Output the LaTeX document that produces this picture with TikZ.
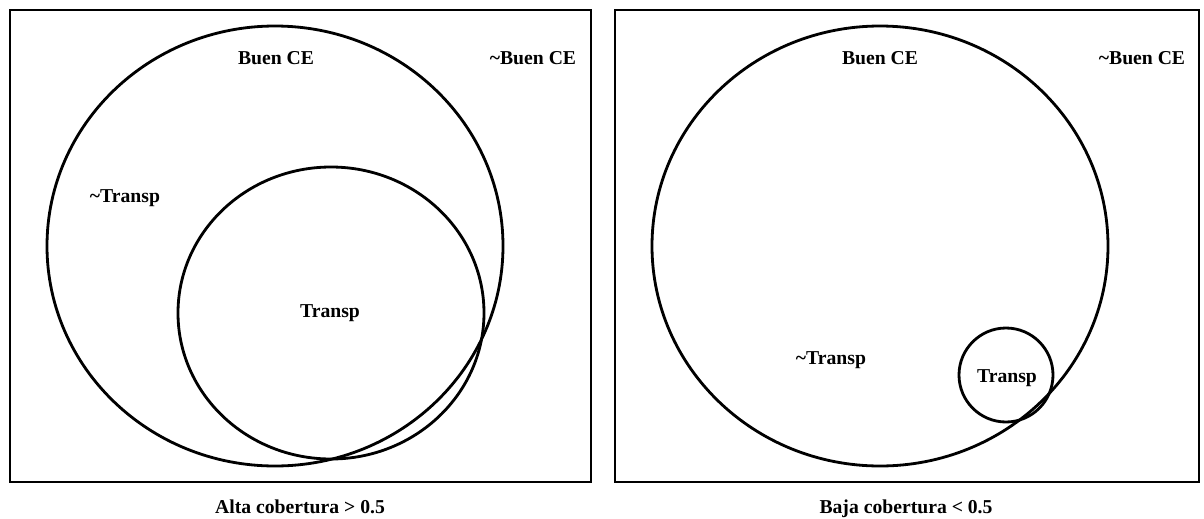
\documentclass[tikz,border=0pt]{standalone}
\usepackage{fontspec}
\setmainfont{Liberation Serif}

\begin{document}
\begin{tikzpicture}[x=0.02cm, y=-0.02cm, line width=1.6pt,
  lbl/.style={font=\fontsize{11.2}{13}\selectfont\bfseries, inner sep=0pt}]
  \useasboundingbox (0,0) rectangle (1204,518);
  % alta cobertura
  \draw (10,10) rectangle (591,482);
  \draw (275,246) ellipse (228 and 220);
  \draw (331,313) ellipse (153 and 146);
  \node[lbl] (buenA) at (276,58) {Buen CE};
  \node[lbl] (nobuenA) at (533,58) {\char`\~Buen CE};
  \node[lbl] (notranspA) at (125,198) {\char`\~Transp};
  \node[lbl] (transpA) at (330,313) {Transp};
  \node[lbl, anchor=base] (altaA) at (300,513) {Alta cobertura > 0.5};
  % baja cobertura
  \draw (615,10) rectangle (1199,482);
  \draw (880,246) ellipse (228 and 220);
  \draw (1006,375) circle (47);
  \node[lbl] (buenB) at (880,58) {Buen CE};
  \node[lbl] (nobuenB) at (1142,58) {\char`\~Buen CE};
  \node[lbl] (notranspB) at (831,360) {\char`\~Transp};
  \node[lbl] (transpB) at (1007,378) {Transp};
  \node[lbl, anchor=base] (bajaB) at (906,513) {Baja cobertura < 0.5};
\end{tikzpicture}
\end{document}
